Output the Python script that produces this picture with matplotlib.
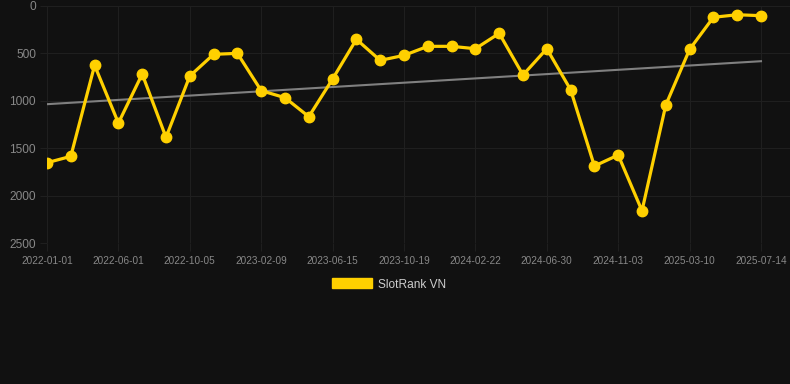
import numpy as np
import matplotlib
matplotlib.use("Agg")
import matplotlib.pyplot as plt
from matplotlib.patches import Patch

tick_labels = ["2022-01-01", "2022-06-01", "2022-10-05", "2023-02-09", "2023-06-15",
               "2023-10-19", "2024-02-22", "2024-06-30", "2024-11-03", "2025-03-10",
               "2025-07-14"]
ranks = [1651, 1584, 625, 1233, 717, 1384, 738, 509, 499, 892,
         966, 1166, 769, 351, 573, 520, 425, 425, 450, 288,
         727, 450, 882, 1686, 1570, 2157, 1043, 457, 119, 92, 102]
series_name = "SlotRank VN"

bg = "#111111"
gold = "#FFD000"
grid_c = "#1f1f1f"

fig = plt.figure(figsize=(7.9, 3.84), dpi=100, facecolor=bg)
ax = fig.add_axes([47/790, 1-243.3/384, (790-47)/790, (243.3-6)/384])
ax.set_facecolor(bg)

x = np.arange(len(ranks))
y = np.array(ranks, dtype=float)

coef = np.polyfit(x, y, 1)
ax.plot(x, np.polyval(coef, x), color="#808080", lw=1.5, zorder=2)
ax.plot(x, y, color=gold, lw=2.3, marker="o", markersize=7.5, zorder=3)

ax.set_ylim(2500, 0)
ax.set_xlim(0, 30*(790-47)/(761-47))
ax.set_yticks([0, 500, 1000, 1500, 2000, 2500])
ax.set_xticks(np.arange(0, len(ranks), 3))
ax.set_xticklabels(tick_labels)

for s in ax.spines.values():
    s.set_visible(False)
ax.grid(True, color=grid_c, lw=0.8)
ax.tick_params(axis="y", colors=grid_c, length=5, width=0.8, labelcolor="#888888",
               labelsize=8.6, pad=3)
ax.tick_params(axis="x", colors=grid_c, length=5.8, width=0.8, labelcolor="#888888",
               labelsize=7.2, pad=3.2)
for lab in ax.get_yticklabels() + ax.get_xticklabels():
    lab.set_fontfamily("Liberation Sans")

leg = fig.legend(handles=[Patch(facecolor=gold, edgecolor=gold, label=series_name)],
                 loc="center", bbox_to_anchor=(0.5 - 6/790, 1-284.5/384), frameon=False,
                 handlelength=3.4, handleheight=0.92, handletextpad=0.5,
                 prop={"family": "Liberation Sans", "size": 8.6})
for t in leg.get_texts():
    t.set_color("#cccccc")

fig.savefig("out.png", dpi=100, facecolor=bg)
